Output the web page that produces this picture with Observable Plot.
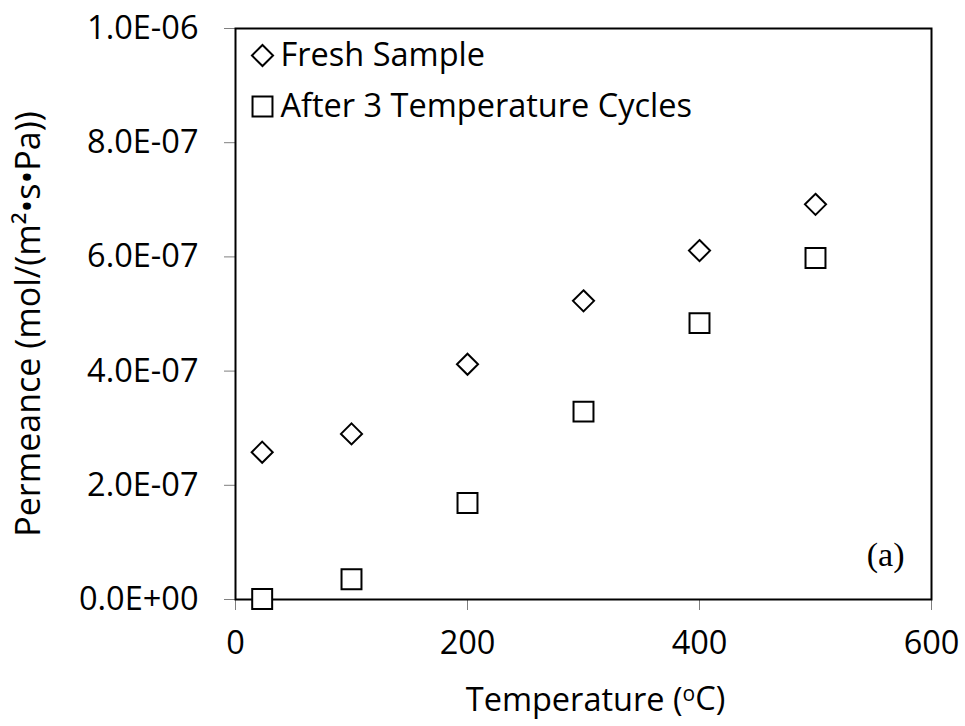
<!DOCTYPE html>
<html>
<head>
<meta charset="utf-8">
<script src="https://cdn.jsdelivr.net/npm/d3@7"></script>
<script src="https://cdn.jsdelivr.net/npm/@observablehq/plot@0.6"></script>
<style>
  html, body { margin: 0; padding: 0; background: #fff; }
</style>
</head>
<body>
<div id="chart"></div>
<script>
// Permeance measured at each temperature, before and after thermal cycling
const temperatures = [23, 100, 200, 300, 400, 500];
const freshPermeance = [2.58e-7, 2.90e-7, 4.12e-7, 5.23e-7, 6.11e-7, 6.92e-7];
const cycledPermeance = [1e-9, 3.56e-8, 1.69e-7, 3.29e-7, 4.84e-7, 5.98e-7];

const seriesNames = ["Fresh Sample", "After 3 Temperature Cycles"];

const xTicks = [0, 200, 400, 600];
const yTicks = [0, 2e-7, 4e-7, 6e-7, 8e-7, 1e-6];
const yTickLabels = ["0.0E+00", "2.0E-07", "4.0E-07", "6.0E-07", "8.0E-07", "1.0E-06"];

const xTitle = "Temperature (oC)";
const yTitle = "Permeance (mol/(m²•s•Pa))";
const panelTag = "(a)";

const fresh = temperatures.map((t, i) => ({t, p: freshPermeance[i]}));
const cycled = temperatures.map((t, i) => ({t, p: cycledPermeance[i]}));

const markerStyle = {fill: "white", stroke: "black", strokeWidth: 2};

const chart = Plot.plot({
  width: 965,
  height: 726,
  marginLeft: 235,
  marginRight: 34,
  marginTop: 28,
  marginBottom: 127,
  style: {fontFamily: "'Open Sans', sans-serif", fontSize: "32.5px", color: "black", background: "white"},
  x: {domain: [0, 600]},
  y: {domain: [0, 1e-6]},
  marks: [
    Plot.axisX({ticks: xTicks, tickSize: 11, tickPadding: 20, stroke: "#7f7f7f", fill: "black", label: null, tickFormat: d => String(d)}),
    Plot.axisY({ticks: yTicks, tickSize: 11, tickPadding: 26, stroke: "#7f7f7f", fill: "black", label: null,
      tickFormat: d => yTickLabels[yTicks.indexOf(d)]}),
    Plot.frame({stroke: "black", strokeWidth: 2}),
    Plot.dot(fresh, {x: "t", y: "p", symbol: "diamond2", r: 9.5, ...markerStyle}),
    Plot.dot(cycled, {x: "t", y: "p", symbol: "square2", r: 12.7, ...markerStyle}),
    // legend in the upper-left corner of the frame
    Plot.dot([seriesNames[0]], {frameAnchor: "top-left", dx: 27, dy: 27, symbol: "diamond2", r: 9.5, ...markerStyle}),
    Plot.dot([seriesNames[1]], {frameAnchor: "top-left", dx: 27, dy: 78, symbol: "square2", r: 12.7, ...markerStyle}),
    Plot.text([seriesNames[0]], {text: d => d, frameAnchor: "top-left", dx: 45, dy: 27, textAnchor: "start", lineAnchor: "middle"}),
    Plot.text([seriesNames[1]], {text: d => d, frameAnchor: "top-left", dx: 45, dy: 78, textAnchor: "start", lineAnchor: "middle"}),
    // panel tag
    Plot.text([panelTag], {text: d => d, frameAnchor: "bottom-right", dx: -27, dy: -34, textAnchor: "end", lineAnchor: "bottom",
      fontFamily: "'Liberation Serif', 'Times New Roman', serif", fontSize: 34}),
    // axis titles
    Plot.text([xTitle], {text: d => d, frameAnchor: "bottom", dx: 12, dy: 111, textAnchor: "middle", lineAnchor: "bottom"}),
    Plot.text([yTitle], {text: d => d, frameAnchor: "left", dx: -196, dy: 10, rotate: -90, textAnchor: "middle", lineAnchor: "bottom", fontSize: 34})
  ]
});

// superscript the "o" in the degree unit
d3.select(chart).selectAll("text").filter(function() { return this.textContent === xTitle; })
  .each(function() {
    const t = d3.select(this);
    t.text(null);
    t.append("tspan").text("Temperature (");
    t.append("tspan").attr("font-size", "21px").attr("dy", "-0.45em").text("o");
    t.append("tspan").attr("dy", "0.29em").text("C)");
  });

document.getElementById("chart").appendChild(chart);
</script>
</body>
</html>
